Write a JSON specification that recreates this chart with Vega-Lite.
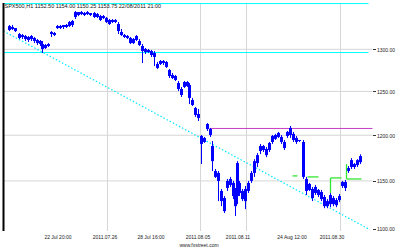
{
  "$schema": "https://vega.github.io/schema/vega-lite/v6.json",
  "width": 369,
  "height": 228,
  "padding": {"left": 2.5, "top": 2, "right": 2, "bottom": 2},
  "background": "white",
  "view": {"stroke": null},
  "config": {"font": "Liberation Sans"},
  "resolve": {"axis": {"x": "independent", "y": "independent"}},
  "datasets": {
    "candles": [
      {"t":6,"h":1329.8,"l":1322.3,"o":1328.5,"c":1323.6},
      {"t":9,"h":1329.8,"l":1323.6,"o":1327.3,"c":1324.8},
      {"t":12,"h":1326.0,"l":1321.1,"o":1326.0,"c":1322.3},
      {"t":16,"h":1319.9,"l":1312.5,"o":1318.7,"c":1313.8},
      {"t":19,"h":1318.7,"l":1312.5,"o":1317.4,"c":1315.0},
      {"t":22,"h":1317.4,"l":1310.1,"o":1316.2,"c":1312.5},
      {"t":25,"h":1316.2,"l":1308.9,"o":1315.0,"c":1311.3},
      {"t":28,"h":1317.4,"l":1310.1,"o":1316.2,"c":1312.5},
      {"t":31,"h":1315.0,"l":1307.6,"o":1313.8,"c":1310.1},
      {"t":34,"h":1312.5,"l":1305.2,"o":1311.3,"c":1307.6},
      {"t":37,"h":1311.3,"l":1304.0,"o":1310.1,"c":1306.4},
      {"t":39,"h":1310.1,"l":1295.5,"o":1306.4,"c":1300.4},
      {"t":42,"h":1306.4,"l":1300.4,"o":1305.2,"c":1301.6},
      {"t":45,"h":1307.6,"l":1302.8,"o":1306.4,"c":1304.0},
      {"t":48,"h":1322.3,"l":1315.0,"o":1321.1,"c":1318.7},
      {"t":51,"h":1321.1,"l":1316.2,"o":1319.9,"c":1317.4},
      {"t":54,"h":1329.8,"l":1324.8,"o":1328.5,"c":1326.0},
      {"t":57,"h":1329.8,"l":1324.8,"o":1328.5,"c":1326.0},
      {"t":60,"h":1329.8,"l":1324.8,"o":1329.8,"c":1327.3},
      {"t":63,"h":1331.0,"l":1326.0,"o":1329.8,"c":1327.3},
      {"t":66,"h":1334.7,"l":1327.3,"o":1333.5,"c":1328.5},
      {"t":69,"h":1336.0,"l":1327.3,"o":1334.7,"c":1329.8},
      {"t":72,"h":1347.2,"l":1337.2,"o":1345.9,"c":1339.7},
      {"t":75,"h":1345.9,"l":1340.9,"o":1345.9,"c":1342.2},
      {"t":78,"h":1347.2,"l":1342.2,"o":1345.9,"c":1343.4},
      {"t":81,"h":1345.9,"l":1340.9,"o":1344.7,"c":1342.2},
      {"t":84,"h":1347.2,"l":1342.2,"o":1345.9,"c":1343.4},
      {"t":87,"h":1344.7,"l":1340.9,"o":1344.7,"c":1342.2},
      {"t":91,"h":1345.9,"l":1338.4,"o":1344.7,"c":1339.7},
      {"t":94,"h":1344.7,"l":1338.4,"o":1343.4,"c":1339.7},
      {"t":97,"h":1342.2,"l":1334.7,"o":1340.9,"c":1336.0},
      {"t":100,"h":1342.2,"l":1337.2,"o":1340.9,"c":1338.4},
      {"t":103,"h":1339.7,"l":1332.2,"o":1338.4,"c":1333.5},
      {"t":106,"h":1337.2,"l":1329.8,"o":1336.0,"c":1331.0},
      {"t":109,"h":1337.2,"l":1332.2,"o":1336.0,"c":1333.5},
      {"t":112,"h":1337.2,"l":1332.2,"o":1336.0,"c":1333.5},
      {"t":115,"h":1333.5,"l":1318.7,"o":1331.0,"c":1322.3},
      {"t":118,"h":1324.8,"l":1316.2,"o":1321.1,"c":1317.4},
      {"t":121,"h":1318.7,"l":1313.8,"o":1317.4,"c":1315.0},
      {"t":124,"h":1317.4,"l":1312.5,"o":1316.2,"c":1313.8},
      {"t":127,"h":1315.0,"l":1306.4,"o":1313.8,"c":1307.6},
      {"t":130,"h":1313.8,"l":1306.4,"o":1312.5,"c":1307.6},
      {"t":133,"h":1317.4,"l":1310.1,"o":1316.2,"c":1311.3},
      {"t":136,"h":1312.5,"l":1304.0,"o":1310.1,"c":1305.2},
      {"t":139,"h":1306.4,"l":1283.5,"o":1304.0,"c":1297.9},
      {"t":142,"h":1301.6,"l":1294.3,"o":1300.4,"c":1296.7},
      {"t":145,"h":1300.4,"l":1295.5,"o":1299.2,"c":1296.7},
      {"t":148,"h":1299.2,"l":1290.7,"o":1297.9,"c":1293.1},
      {"t":151,"h":1297.9,"l":1279.9,"o":1295.5,"c":1290.7},
      {"t":154,"h":1284.7,"l":1276.4,"o":1282.3,"c":1277.6},
      {"t":157,"h":1287.1,"l":1281.1,"o":1285.9,"c":1282.3},
      {"t":160,"h":1287.1,"l":1281.1,"o":1285.9,"c":1283.5},
      {"t":163,"h":1285.9,"l":1277.6,"o":1284.7,"c":1278.8},
      {"t":166,"h":1276.4,"l":1265.7,"o":1275.2,"c":1268.1},
      {"t":169,"h":1271.6,"l":1264.5,"o":1269.3,"c":1265.7},
      {"t":172,"h":1269.3,"l":1262.2,"o":1268.1,"c":1263.4},
      {"t":175,"h":1262.2,"l":1250.5,"o":1259.8,"c":1252.8},
      {"t":178,"h":1255.2,"l":1243.5,"o":1252.8,"c":1245.8},
      {"t":181,"h":1262.2,"l":1254.0,"o":1261.0,"c":1255.2},
      {"t":184,"h":1262.2,"l":1255.2,"o":1261.0,"c":1256.3},
      {"t":186,"h":1259.8,"l":1235.4,"o":1257.5,"c":1242.4},
      {"t":189,"h":1242.4,"l":1233.1,"o":1240.0,"c":1234.3},
      {"t":192,"h":1232.0,"l":1220.6,"o":1230.8,"c":1222.9},
      {"t":195,"h":1229.7,"l":1216.0,"o":1224.0,"c":1219.5},
      {"t":198,"h":1200.3,"l":1168.2,"o":1199.2,"c":1190.3},
      {"t":201,"h":1198.1,"l":1191.4,"o":1197.0,"c":1192.5},
      {"t":204,"h":1213.7,"l":1204.8,"o":1212.6,"c":1207.0},
      {"t":207,"h":1208.2,"l":1198.1,"o":1207.0,"c":1200.3},
      {"t":209,"h":1193.6,"l":1160.7,"o":1188.0,"c":1171.4},
      {"t":212,"h":1162.9,"l":1153.2,"o":1160.7,"c":1154.3},
      {"t":215,"h":1160.7,"l":1128.6,"o":1158.6,"c":1150.0},
      {"t":218,"h":1141.4,"l":1123.3,"o":1139.3,"c":1128.6},
      {"t":221,"h":1133.9,"l":1116.1,"o":1131.8,"c":1118.1},
      {"t":224,"h":1152.1,"l":1139.3,"o":1150.0,"c":1142.5},
      {"t":227,"h":1154.3,"l":1143.6,"o":1152.1,"c":1145.7},
      {"t":230,"h":1150.0,"l":1130.7,"o":1147.9,"c":1133.9},
      {"t":232,"h":1142.5,"l":1113.0,"o":1139.3,"c":1123.3},
      {"t":234,"h":1171.4,"l":1125.4,"o":1169.3,"c":1133.9},
      {"t":236,"h":1150.0,"l":1133.9,"o":1147.9,"c":1137.1},
      {"t":239,"h":1141.4,"l":1128.6,"o":1139.3,"c":1130.7},
      {"t":242,"h":1144.6,"l":1120.2,"o":1141.4,"c":1128.6},
      {"t":245,"h":1150.0,"l":1137.1,"o":1147.9,"c":1139.3},
      {"t":248,"h":1160.7,"l":1147.9,"o":1158.6,"c":1150.0},
      {"t":251,"h":1173.6,"l":1154.3,"o":1171.4,"c":1158.6},
      {"t":254,"h":1180.2,"l":1165.0,"o":1178.0,"c":1169.3},
      {"t":257,"h":1190.3,"l":1179.1,"o":1188.0,"c":1182.5},
      {"t":260,"h":1189.2,"l":1181.4,"o":1188.0,"c":1183.6},
      {"t":263,"h":1186.9,"l":1175.8,"o":1184.7,"c":1178.0},
      {"t":266,"h":1192.5,"l":1181.4,"o":1191.4,"c":1183.6},
      {"t":269,"h":1200.3,"l":1190.3,"o":1199.2,"c":1192.5},
      {"t":272,"h":1201.5,"l":1194.7,"o":1200.3,"c":1195.9},
      {"t":275,"h":1203.7,"l":1197.0,"o":1202.6,"c":1198.1},
      {"t":278,"h":1200.3,"l":1190.3,"o":1198.1,"c":1192.5},
      {"t":281,"h":1194.7,"l":1183.6,"o":1192.5,"c":1185.8},
      {"t":284,"h":1204.8,"l":1197.0,"o":1203.7,"c":1199.2},
      {"t":287,"h":1210.4,"l":1197.0,"o":1208.2,"c":1200.3},
      {"t":290,"h":1203.7,"l":1192.5,"o":1201.5,"c":1194.7},
      {"t":293,"h":1199.2,"l":1190.3,"o":1197.0,"c":1192.5},
      {"t":296,"h":1194.7,"l":1192.5,"o":1194.7,"c":1193.6},
      {"t":300,"h":1194.7,"l":1152.1,"o":1192.5,"c":1154.3},
      {"t":303,"h":1154.3,"l":1135.0,"o":1152.1,"c":1139.3},
      {"t":306,"h":1147.9,"l":1139.3,"o":1146.8,"c":1140.4},
      {"t":309,"h":1143.6,"l":1128.6,"o":1141.4,"c":1131.8},
      {"t":312,"h":1145.7,"l":1135.0,"o":1143.6,"c":1137.1},
      {"t":315,"h":1141.4,"l":1132.9,"o":1140.4,"c":1135.0},
      {"t":318,"h":1140.4,"l":1128.6,"o":1138.2,"c":1130.7},
      {"t":321,"h":1135.0,"l":1121.2,"o":1132.9,"c":1123.3},
      {"t":324,"h":1130.7,"l":1121.2,"o":1128.6,"c":1123.3},
      {"t":327,"h":1137.1,"l":1122.2,"o":1135.0,"c":1125.4},
      {"t":330,"h":1133.9,"l":1123.3,"o":1131.8,"c":1125.4},
      {"t":333,"h":1131.8,"l":1122.2,"o":1129.7,"c":1124.3},
      {"t":336,"h":1136.1,"l":1127.5,"o":1133.9,"c":1129.7},
      {"t":339,"h":1150.0,"l":1142.5,"o":1148.9,"c":1144.6},
      {"t":342,"h":1151.1,"l":1139.3,"o":1148.9,"c":1142.5},
      {"t":345,"h":1166.1,"l":1158.6,"o":1163.9,"c":1160.7},
      {"t":348,"h":1174.7,"l":1162.9,"o":1172.5,"c":1165.0},
      {"t":351,"h":1169.3,"l":1162.9,"o":1168.2,"c":1165.0},
      {"t":354,"h":1173.6,"l":1165.0,"o":1172.5,"c":1167.1},
      {"t":357,"h":1178.9,"l":1168.2,"o":1176.9,"c":1170.3}
    ],
    "lines": [
      {"kind":"cyan","t1":0,"t2":365,"p1":1356.6,"p2":1356.6},
      {"kind":"cyan","t1":0,"t2":365,"p1":1296.1,"p2":1296.1},
      {"kind":"magenta","t1":206,"t2":369,"p1":1207.6,"p2":1207.6},
      {"kind":"dot","t1":0,"t2":365,"p1":1322.3,"p2":1099.7},
      {"kind":"green","t1":289,"t2":294,"p1":1155.4,"p2":1155.4},
      {"kind":"green","t1":304,"t2":315,"p1":1154.3,"p2":1154.3},
      {"kind":"green","t1":327,"t2":338,"p1":1153.2,"p2":1153.2},
      {"kind":"green","t1":327,"t2":327,"p1":1153.2,"p2":1137.1},
      {"kind":"green","t1":343,"t2":343,"p1":1168.2,"p2":1152.1},
      {"kind":"green","t1":343,"t2":358,"p1":1152.1,"p2":1152.1}
    ],
    "hgrid": [{"p":1150},{"p":1200},{"p":1250},{"p":1300}],
    "vgrid": [{"t":104},{"t":197},{"t":243},{"t":337}]
  },
  "layer": [
    {
      "data": {"name": "hgrid"},
      "mark": {"type": "rule", "color": "#d6d6d6", "strokeWidth": 1},
      "encoding": {
        "y": {"field": "p", "type": "quantitative", "scale": {"type": "log", "domain": [1097.6, 1357.3], "nice": false, "zero": false}, "axis": null}
      }
    },
    {
      "data": {"name": "vgrid"},
      "mark": {"type": "rule", "color": "#d6d6d6", "strokeWidth": 1},
      "encoding": {
        "x": {"field": "t", "type": "quantitative", "scale": {"domain": [0, 369], "nice": false, "zero": false}, "axis": null}
      }
    },
    {
      "data": {"name": "lines"},
      "transform": [{"filter": "datum.kind === 'dot'"}],
      "mark": {"type": "rule", "color": "#00e8ff", "strokeWidth": 1.2, "strokeDash": [1.5, 2]},
      "encoding": {
        "x": {"field": "t1", "type": "quantitative", "axis": null},
        "x2": {"field": "t2"},
        "y": {"field": "p1", "type": "quantitative", "axis": null},
        "y2": {"field": "p2"}
      }
    },
    {
      "data": {"name": "lines"},
      "transform": [{"filter": "datum.kind === 'cyan'"}],
      "mark": {"type": "rule", "color": "#00ffff", "strokeWidth": 1},
      "encoding": {
        "x": {"field": "t1", "type": "quantitative", "axis": null},
        "x2": {"field": "t2"},
        "y": {"field": "p1", "type": "quantitative", "axis": null},
        "y2": {"field": "p2"}
      }
    },
    {
      "data": {"name": "lines"},
      "transform": [{"filter": "datum.kind === 'magenta'"}],
      "mark": {"type": "rule", "color": "#c83cc8", "strokeWidth": 1},
      "encoding": {
        "x": {"field": "t1", "type": "quantitative", "axis": null},
        "x2": {"field": "t2"},
        "y": {"field": "p1", "type": "quantitative", "axis": null},
        "y2": {"field": "p2"}
      }
    },
    {
      "data": {"name": "candles"},
      "mark": {"type": "rule", "color": "#0000ff", "strokeWidth": 1},
      "encoding": {
        "x": {
          "field": "t", "type": "quantitative",
          "axis": {
            "orient": "bottom",
            "values": [54, 101, 147, 194, 234, 288, 328],
            "labelExpr": "datum.value == 54 ? '22 Jul 20:00' : datum.value == 101 ? '2011.07.26' : datum.value == 147 ? '28 Jul 16:00' : datum.value == 194 ? '2011.08.05' : datum.value == 234 ? '2011.08.11' : datum.value == 288 ? '24 Aug 12:00' : '2011.08.30'",
            "grid": false, "ticks": false, "domain": false,
            "labelFontSize": 5, "labelColor": "#222222", "labelPadding": 3, "labelFlush": false, "labelOverlap": false,
            "title": "www.fxstreet.com", "titleFontSize": 5, "titleFontWeight": "normal", "titleColor": "#222222", "titlePadding": 3, "titleX": 195
          }
        },
        "y": {
          "field": "h", "type": "quantitative",
          "axis": {
            "orient": "right",
            "values": [1100, 1150, 1200, 1250, 1300],
            "format": ".2f",
            "grid": false, "domain": false,
            "tickSize": 3, "tickColor": "#333333",
            "labelFontSize": 5, "labelColor": "#222222", "labelPadding": 1, "labelFlush": false, "labelOverlap": false,
            "title": null
          }
        },
        "y2": {"field": "l"}
      }
    },
    {
      "data": {"name": "candles"},
      "mark": {"type": "rule", "color": "#0000ff", "strokeWidth": 3},
      "encoding": {
        "x": {"field": "t", "type": "quantitative", "axis": null},
        "y": {"field": "o", "type": "quantitative", "axis": null},
        "y2": {"field": "c"}
      }
    },
    {
      "data": {"name": "lines"},
      "transform": [{"filter": "datum.kind === 'green'"}],
      "mark": {"type": "rule", "color": "#33e633", "strokeWidth": 1.3},
      "encoding": {
        "x": {"field": "t1", "type": "quantitative", "axis": null},
        "x2": {"field": "t2"},
        "y": {"field": "p1", "type": "quantitative", "axis": null},
        "y2": {"field": "p2"}
      }
    },
    {
      "data": {"values": [{}]},
      "mark": {"type": "rule", "color": "#000000", "strokeWidth": 2},
      "encoding": {
        "x": {"datum": 0, "type": "quantitative", "axis": null}
      }
    },
    {
      "data": {"values": [{}]},
      "mark": {"type": "text", "text": "SPX500,H1 1152.50 1154.00 1150.25 1153.75 22/08/2011 21:00", "align": "left", "baseline": "middle", "fontSize": 5.5, "color": "#111111"},
      "encoding": {
        "x": {"datum": 1, "type": "quantitative", "axis": null},
        "y": {"datum": 1352.9, "type": "quantitative", "axis": null}
      }
    }
  ]
}
